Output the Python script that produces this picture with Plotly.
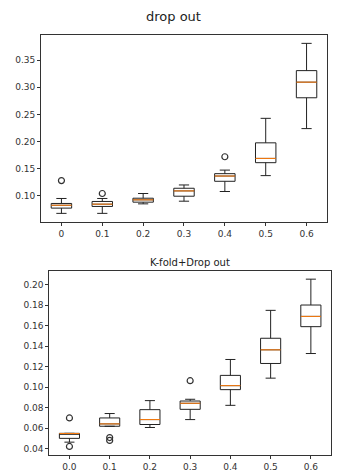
import plotly.graph_objects as go

# ---- data ----
top_labels = ["0", "0.1", "0.2", "0.3", "0.4", "0.5", "0.6"]
top_q1 = [0.0767, 0.0798, 0.0877, 0.0987, 0.1263, 0.1607, 0.2807]
top_med = [0.0820, 0.0840, 0.0920, 0.1085, 0.1360, 0.1686, 0.3096]
top_q3 = [0.0853, 0.0890, 0.0950, 0.1134, 0.1404, 0.1974, 0.3309]
top_lo = [0.0670, 0.0670, 0.0846, 0.0895, 0.1074, 0.1368, 0.2237]
top_hi = [0.0945, 0.0945, 0.1037, 0.1195, 0.1470, 0.2427, 0.3813]
top_out_idx = [0, 1, 4]
top_out_val = [0.1276, 0.1037, 0.1717]

bot_labels = ["0.0", "0.1", "0.2", "0.3", "0.4", "0.5", "0.6"]
bot_q1 = [0.0502, 0.0620, 0.0637, 0.0785, 0.0977, 0.1232, 0.1591]
bot_med = [0.0549, 0.0643, 0.0685, 0.0844, 0.1016, 0.1365, 0.1691]
bot_q3 = [0.0551, 0.0701, 0.0782, 0.0866, 0.1116, 0.1478, 0.1802]
bot_lo = [0.0465, 0.0620, 0.0608, 0.0685, 0.0824, 0.1089, 0.1329]
bot_hi = [0.0551, 0.0744, 0.0870, 0.0883, 0.1271, 0.1750, 0.2054]
bot_out_idx = [0, 0, 1, 1, 3]
bot_out_val = [0.0701, 0.0423, 0.0510, 0.0482, 0.1064]

BOX_W = 0.5
positions = list(range(1, 8))

fig = go.Figure()


def add_panel(q1, med, q3, lo, hi, out_idx, out_val, xa, ya):
    fig.add_trace(go.Box(
        x=positions, q1=q1, median=med, q3=q3, lowerfence=lo, upperfence=hi,
        width=BOX_W, whiskerwidth=0.5, boxpoints=False,
        line=dict(color="#222222", width=1), fillcolor="rgba(255,255,255,0)",
        xaxis=xa, yaxis=ya, showlegend=False, hoverinfo="skip"))
    mx, my = [], []
    for p, m in zip(positions, med):
        mx += [p - BOX_W / 2, p + BOX_W / 2, None]
        my += [m, m, None]
    fig.add_trace(go.Scatter(x=mx, y=my, mode="lines",
                             line=dict(color="#ff7f0e", width=1),
                             xaxis=xa, yaxis=ya, showlegend=False, hoverinfo="skip"))
    fig.add_trace(go.Scatter(x=[positions[i] for i in out_idx], y=out_val, mode="markers",
                             marker=dict(symbol="circle-open", size=6,
                                         line=dict(color="#333333", width=1.2),
                                         color="#333333"),
                             xaxis=xa, yaxis=ya, showlegend=False, hoverinfo="skip"))


add_panel(top_q1, top_med, top_q3, top_lo, top_hi, top_out_idx, top_out_val, "x", "y")
add_panel(bot_q1, bot_med, bot_q3, bot_lo, bot_hi, bot_out_idx, bot_out_val, "x2", "y2")

axis_common = dict(showline=True, mirror=True, linecolor="#333333", linewidth=1,
                   ticks="outside", ticklen=3, tickcolor="#333333", showgrid=False,
                   zeroline=False, tickfont=dict(family="DejaVu Sans", size=9, color="#333333"))

fig.update_layout(
    width=342, height=472,
    margin=dict(l=0, r=0, t=0, b=0),
    paper_bgcolor="white", plot_bgcolor="white",
    boxmode="overlay",
    xaxis=dict(domain=[0.1199, 0.9561], range=[0.5, 7.5], tickvals=positions,
               ticktext=top_labels, anchor="y", **axis_common),
    yaxis=dict(domain=[0.5282, 0.9258], range=[0.0515, 0.397],
               tickvals=[0.10, 0.15, 0.20, 0.25, 0.30, 0.35], tickformat=".2f",
               anchor="x", **axis_common),
    xaxis2=dict(domain=[0.1442, 0.9678], range=[0.5, 7.5], tickvals=positions,
                ticktext=bot_labels, anchor="y2", **axis_common),
    yaxis2=dict(domain=[0.0324, 0.4237], range=[0.0342, 0.2135],
                tickvals=[0.04, 0.06, 0.08, 0.10, 0.12, 0.14, 0.16, 0.18, 0.20],
                tickformat=".2f", anchor="x2", **axis_common),
    annotations=[
        dict(text="drop out", x=173.5 / 342, y=1 - 17 / 472, xref="paper", yref="paper",
             showarrow=False, xanchor="center", yanchor="middle",
             font=dict(family="DejaVu Sans", size=13, color="#222222")),
        dict(text="K-fold+Drop out", x=190 / 342, y=1 - 264 / 472, xref="paper", yref="paper",
             showarrow=False, xanchor="center", yanchor="middle",
             font=dict(family="DejaVu Sans", size=10, color="#222222")),
    ],
)

fig.write_html("out.html")
